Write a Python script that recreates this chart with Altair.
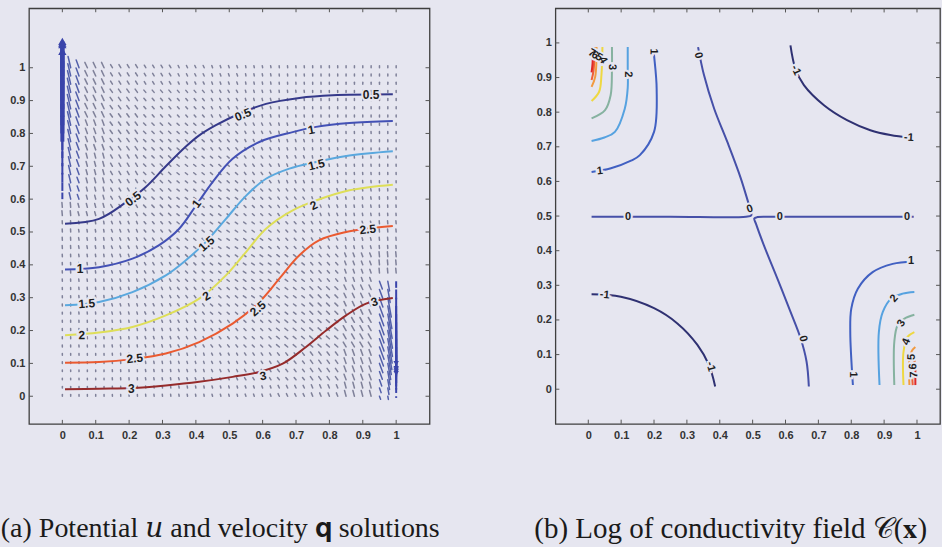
import math
import altair as alt
import pandas as pd

BG = "#e6e6f0"
TICKS = [0, 0.1, 0.2, 0.3, 0.4, 0.5, 0.6, 0.7, 0.8, 0.9, 1]

A_XDOM = [-0.1, 1.1]
A_YDOM = [-0.084, 1.181]
B_XDOM = [-0.1, 1.07]
B_YDOM = [-0.1, 1.1]

# ---------------- panel (a): potential u contours ----------------
U_LEVELS = ["0.5", "1", "1.5", "2", "2.5", "3"]
U_COLORS = ["#35398a", "#4351b5", "#5aa8de", "#dede58", "#ea5a30", "#952b2b"]

U05_X = [0.008, 0.11, 0.19, 0.25, 0.31, 0.37, 0.41, 0.46, 0.53, 0.61, 0.71, 0.81, 0.99]
U05_Y = [0.525, 0.54, 0.59, 0.637, 0.70, 0.76, 0.794, 0.825, 0.86, 0.89, 0.908, 0.916, 0.919]
U1_X = [0.008, 0.11, 0.21, 0.29, 0.35, 0.40, 0.45, 0.51, 0.59, 0.69, 0.76, 0.86, 0.99]
U1_Y = [0.386, 0.393, 0.419, 0.46, 0.51, 0.58, 0.652, 0.723, 0.774, 0.804, 0.82, 0.832, 0.838]
U15_X = [0.008, 0.11, 0.21, 0.31, 0.37, 0.43, 0.49, 0.55, 0.61, 0.68, 0.76, 0.86, 0.99]
U15_Y = [0.277, 0.287, 0.317, 0.368, 0.414, 0.47, 0.54, 0.61, 0.662, 0.693, 0.713, 0.733, 0.746]
U2_X = [0.008, 0.11, 0.21, 0.31, 0.41, 0.49, 0.55, 0.61, 0.69, 0.76, 0.86, 0.99]
U2_Y = [0.186, 0.194, 0.211, 0.246, 0.297, 0.368, 0.439, 0.51, 0.566, 0.596, 0.627, 0.644]
U25_X = [0.008, 0.11, 0.21, 0.31, 0.41, 0.51, 0.59, 0.65, 0.71, 0.77, 0.85, 0.91, 0.99]
U25_Y = [0.102, 0.104, 0.113, 0.13, 0.165, 0.221, 0.287, 0.358, 0.429, 0.475, 0.50, 0.51, 0.518]
U3_X = [0.008, 0.11, 0.21, 0.31, 0.41, 0.51, 0.59, 0.66, 0.73, 0.79, 0.85, 0.91, 0.99]
U3_Y = [0.021, 0.023, 0.025, 0.033, 0.044, 0.059, 0.074, 0.099, 0.15, 0.20, 0.246, 0.282, 0.299]

ULAB_TEXT = ["0.5", "0.5", "0.5", "1", "1", "1", "1.5", "1.5", "1.5",
             "2", "2", "2", "2.5", "2.5", "2.5", "3", "3", "3"]
ULAB_X = [0.212, 0.541, 0.925, 0.053, 0.402, 0.746, 0.073, 0.432, 0.761,
          0.058, 0.432, 0.753, 0.217, 0.586, 0.915, 0.207, 0.601, 0.935]
ULAB_Y = [0.601, 0.857, 0.918, 0.388, 0.586, 0.811, 0.282, 0.464, 0.705,
          0.186, 0.305, 0.581, 0.115, 0.267, 0.508, 0.023, 0.062, 0.287]
ULAB_ANGLE = [322, 337, 359, 0, 306, 348, 355, 317, 346,
              358, 327, 333, 353, 318, 353, 0, 349, 341]

# ---------------- panel (a): velocity field q ----------------
GRID = [i / 40 for i in range(41)]
# coarse read-off of dash length (x0.01) and direction (deg); rows y=1.0 ... 0.0, cols x=0.0 ... 1.0
DASH_LEN = [
    [2.2, 1.8, 1.1, 0.9, 0.75, 0.7, 0.65, 0.6, 0.6, 0.6, 0.6],
    [2.2, 1.8, 1.2, 0.9, 0.8, 0.75, 0.7, 0.65, 0.6, 0.6, 0.6],
    [2.2, 1.7, 1.2, 0.95, 0.85, 0.8, 0.75, 0.7, 0.65, 0.6, 0.6],
    [1.8, 1.5, 1.1, 0.95, 0.85, 0.85, 0.8, 0.75, 0.7, 0.65, 0.6],
    [1.5, 1.2, 1.0, 0.95, 0.85, 0.85, 0.8, 0.75, 0.75, 0.7, 0.7],
    [0.9, 0.8, 0.8, 0.8, 0.85, 0.85, 0.85, 0.8, 0.8, 0.8, 0.9],
    [0.7, 0.7, 0.75, 0.8, 0.85, 0.85, 0.95, 0.95, 0.95, 1.2, 1.5],
    [0.6, 0.65, 0.7, 0.75, 0.8, 0.85, 0.95, 0.95, 1.2, 1.5, 1.8],
    [0.6, 0.6, 0.65, 0.7, 0.75, 0.8, 0.85, 1.1, 1.2, 1.7, 2.2],
    [0.5, 0.5, 0.6, 0.65, 0.65, 0.7, 0.8, 0.9, 1.2, 1.8, 2.2],
    [0.5, 0.5, 0.55, 0.6, 0.65, 0.65, 0.7, 0.9, 1.1, 1.8, 2.2],
]
DASH_ANG = [
    [95, 115, 120, 120, 115, 110, 100, 95, 92, 90, 90],
    [95, 115, 125, 130, 130, 120, 105, 97, 93, 91, 90],
    [95, 110, 125, 135, 138, 130, 115, 105, 97, 93, 91],
    [95, 105, 120, 135, 140, 138, 125, 110, 100, 95, 92],
    [95, 105, 120, 135, 142, 142, 135, 125, 110, 100, 95],
    [93, 100, 112, 128, 140, 145, 142, 132, 120, 105, 95],
    [93, 98, 108, 120, 135, 143, 145, 142, 130, 110, 95],
    [92, 96, 105, 115, 128, 138, 143, 142, 135, 115, 95],
    [92, 94, 100, 108, 118, 128, 135, 140, 138, 120, 95],
    [91, 92, 95, 100, 107, 115, 122, 128, 125, 110, 95],
    [90, 91, 93, 96, 100, 105, 110, 115, 112, 105, 95],
]
# strong flux near the top-left corner (columns x=0, 0.025, 0.05)
TL_COLS = [0.0, 0.025, 0.05]
TL_ANG = [90, 103, 110]
TL_TAIL_Y = [0.6, 0.625, 0.65, 0.675, 0.7, 0.725, 0.75, 0.775, 0.8, 0.825,
             0.85, 0.875, 0.9, 0.925, 0.95, 0.975, 1.0]
TL_LEN_0 = [0.02, 0.025, 0.03, 0.035, 0.045, 0.055, 0.065, 0.08, 0.09, 0.1,
            0.11, 0.12, 0.12, 0.125, 0.12, 0.1, 0.08]
TL_LEN_1 = [0.02, 0.022, 0.025, 0.028, 0.03, 0.033, 0.035, 0.038, 0.04, 0.042,
            0.045, 0.045, 0.045, 0.044, 0.042, 0.038, 0.035]
TL_LEN_2 = [0.015, 0.016, 0.018, 0.02, 0.021, 0.022, 0.024, 0.025, 0.026, 0.027,
            0.028, 0.028, 0.028, 0.028, 0.027, 0.026, 0.025]
# strong flux near the bottom-right corner (columns x=1, 0.975, 0.95)
BR_COLS = [1.0, 0.975, 0.95]
BR_ANG = [270, 280, 290]
BR_TAIL_Y = [0.0, 0.025, 0.05, 0.075, 0.1, 0.125, 0.15, 0.175, 0.2, 0.225,
             0.25, 0.275, 0.3, 0.325, 0.35]
BR_LEN_0 = [0.005, 0.015, 0.03, 0.045, 0.06, 0.075, 0.09, 0.11, 0.13, 0.15,
            0.17, 0.19, 0.2, 0.03, 0.02]
BR_LEN_1 = [0.01, 0.02, 0.03, 0.04, 0.05, 0.06, 0.07, 0.075, 0.08, 0.08,
            0.075, 0.07, 0.06, 0.04, 0.03]
BR_LEN_2 = [0.01, 0.015, 0.02, 0.025, 0.03, 0.035, 0.04, 0.04, 0.04, 0.04,
            0.038, 0.035, 0.03, 0.028, 0.025]

# ---------------- panel (b): log conductivity contours ----------------
C_LEVELS = ["-1", "0", "1", "2", "3", "4", "5", "6", "7"]
C_COLORS = ["#2f3172", "#4650a8", "#4160c2", "#56a2e0", "#86b2a0", "#eed842",
            "#f19a40", "#ef6038", "#e02828"]

CM1A_X = [0.01, 0.099, 0.2, 0.271, 0.332, 0.367, 0.386]
CM1A_Y = [0.274, 0.267, 0.234, 0.19, 0.128, 0.07, 0.008]
CM1B_X = [0.615, 0.63, 0.656, 0.717, 0.787, 0.858, 0.919, 0.98]
CM1B_Y = [0.993, 0.926, 0.878, 0.82, 0.777, 0.748, 0.734, 0.726]
C0A_X = [0.01, 0.25, 0.48, 0.496, 0.495, 0.489, 0.464, 0.423, 0.383, 0.352, 0.334]
C0A_Y = [0.498, 0.498, 0.498, 0.502, 0.515, 0.532, 0.609, 0.714, 0.81, 0.907, 0.988]
C0B_X = [0.671, 0.664, 0.646, 0.615, 0.575, 0.534, 0.51, 0.505, 0.515, 0.55, 0.8, 0.99]
C0B_Y = [0.008, 0.08, 0.147, 0.224, 0.32, 0.416, 0.478, 0.493, 0.497, 0.498, 0.498, 0.498]
C1A_X = [0.01, 0.069, 0.13, 0.157, 0.2, 0.208, 0.2, 0.198]
C1A_Y = [0.627, 0.638, 0.66, 0.676, 0.743, 0.868, 0.965, 0.985]
C1B_X = [0.805, 0.797, 0.8, 0.82, 0.865, 0.926, 0.987]
C1B_Y = [0.012, 0.165, 0.232, 0.29, 0.338, 0.362, 0.369]
C2A_X = [0.01, 0.049, 0.081, 0.111, 0.12, 0.12, 0.12]
C2A_Y = [0.717, 0.727, 0.743, 0.81, 0.87, 0.93, 0.988]
C2B_X = [0.886, 0.884, 0.896, 0.921, 0.956, 0.992]
C2B_Y = [0.012, 0.165, 0.223, 0.261, 0.276, 0.281]
C3A_X = [0.01, 0.051, 0.068, 0.072, 0.072]
C3A_Y = [0.782, 0.806, 0.849, 0.926, 0.988]
C3B_X = [0.931, 0.931, 0.941, 0.962, 0.992]
C3B_Y = [0.012, 0.137, 0.185, 0.204, 0.215]
C4A_X = [0.01, 0.033, 0.04, 0.043]
C4A_Y = [0.832, 0.859, 0.907, 0.988]
C4B_X = [0.959, 0.959, 0.971, 0.992]
C4B_Y = [0.012, 0.108, 0.151, 0.165]
C5A_X = [0.01, 0.021, 0.025]
C5A_Y = [0.873, 0.902, 0.988]
C5B_X = [0.977, 0.977, 0.985, 0.995]
C5B_Y = [0.012, 0.088, 0.112, 0.122]
C6A_X = [0.01, 0.016, 0.019]
C6A_Y = [0.893, 0.92, 0.988]
C6B_X = [0.987, 0.987, 0.995]
C6B_Y = [0.012, 0.074, 0.083]
C7A_X = [0.01, 0.013, 0.014]
C7A_Y = [0.915, 0.94, 0.988]
C7B_X = [0.995, 0.995]
C7B_Y = [0.012, 0.07]

CLAB_TEXT = ["1", "1", "2", "3", "4", "5", "6", "7", "-1", "-1", "-1", "-1",
             "0", "0", "0", "0", "0", "0", "1", "1", "2", "3", "4", "5", "6", "7"]
CLAB_X = [0.035, 0.198, 0.121, 0.072, 0.044, 0.032, 0.02, 0.01, 0.05, 0.372, 0.631, 0.975,
          0.334, 0.492, 0.121, 0.583, 0.97, 0.653, 0.982, 0.805, 0.931, 0.953, 0.968,
          0.984, 0.989, 0.992]
CLAB_Y = [0.63, 0.975, 0.909, 0.93, 0.95, 0.958, 0.964, 0.97, 0.272, 0.065, 0.921, 0.726,
          0.964, 0.52, 0.498, 0.498, 0.498, 0.146, 0.369, 0.042, 0.262, 0.19, 0.137,
          0.093, 0.066, 0.042]
CLAB_ANGLE = [352, 90, 90, 90, 60, 30, 30, 30, 5, 75, 65, 3,
              75, 340, 0, 0, 0, 75, 0, 90, 310, 300, 290, 270, 270, 270]

CAPTION_A = "(a) Potential \U0001D462 and velocity \U0001D42A solutions"
CAPTION_B = "(b) Log of conductivity field \U0001D49E(\U0001D431)"

# ======================= build tables =======================
def curve_rows(level, seg, xs, ys):
    return [dict(level=level, seg=seg, i=i, x=x, y=y) for i, (x, y) in enumerate(zip(xs, ys))]


def tick_rows(xdom, ydom, dx, dy):
    rows = []
    for t in TICKS:
        rows.append(dict(x=t, y=ydom[0], x2=t, y2=ydom[0] + dy))
        rows.append(dict(x=t, y=ydom[1], x2=t, y2=ydom[1] - dy))
        rows.append(dict(x=xdom[0], y=t, x2=xdom[0] + dx, y2=t))
        rows.append(dict(x=xdom[1], y=t, x2=xdom[1] - dx, y2=t))
    return pd.DataFrame(rows)


def vec(x, y, length, ang):
    a = math.radians(ang)
    return dict(x=x, y=y, x2=x + length * math.cos(a), y2=y + length * math.sin(a))


u_curves = []
for lev, xs, ys in zip(U_LEVELS, [U05_X, U1_X, U15_X, U2_X, U25_X, U3_X],
                       [U05_Y, U1_Y, U15_Y, U2_Y, U25_Y, U3_Y]):
    u_curves += curve_rows(lev, lev, xs, ys)
u_df = pd.DataFrame(u_curves)
ulab_df = pd.DataFrame(dict(text=ULAB_TEXT, x=ULAB_X, y=ULAB_Y, angle=ULAB_ANGLE))

dash_rows = []
for gy in GRID:
    for gx in GRID:
        if gx <= 0.05 and gy >= 0.6:
            continue
        if gx >= 0.95 and gy <= 0.35:
            continue
        ix = min(int(gx * 10 + 0.5), 10)
        iy = min(int(gy * 10 + 0.5), 10)
        dash_rows.append(vec(gx, gy, DASH_LEN[10 - iy][ix] * 0.01, DASH_ANG[10 - iy][ix]))
dash_df = pd.DataFrame(dash_rows)

big_rows, thick_rows, mid_rows, head_up, head_down = [], [], [], [], []
for col, ang, lens in zip(TL_COLS, TL_ANG, [TL_LEN_0, TL_LEN_1, TL_LEN_2]):
    for ty, ln in zip(TL_TAIL_Y, lens):
        r = vec(col, ty, ln, ang)
        if col == TL_COLS[0]:
            (thick_rows if ln >= 0.07 else big_rows).append(r)
            if r["y2"] >= 1.05:
                head_up.append(dict(x=r["x2"], y=r["y2"]))
        else:
            mid_rows.append(r)
for col, ang, lens in zip(BR_COLS, BR_ANG, [BR_LEN_0, BR_LEN_1, BR_LEN_2]):
    for ty, ln in zip(BR_TAIL_Y, lens):
        r = vec(col, ty, ln, ang)
        if col == BR_COLS[0]:
            big_rows.append(r)
            if ln >= 0.13:
                head_down.append(dict(x=r["x2"], y=r["y2"]))
        else:
            mid_rows.append(r)
big_df = pd.DataFrame(big_rows)
thick_df = pd.DataFrame(thick_rows)
mid_df = pd.DataFrame(mid_rows)
hu_df = pd.DataFrame(head_up)
hd_df = pd.DataFrame(head_down)

c_curves = []
c_curves += curve_rows("-1", "m1a", CM1A_X, CM1A_Y)
c_curves += curve_rows("-1", "m1b", CM1B_X, CM1B_Y)
c_curves += curve_rows("0", "0a", C0A_X, C0A_Y)
c_curves += curve_rows("0", "0b", C0B_X, C0B_Y)
for lev, ax_, ay_, bx_, by_ in [("1", C1A_X, C1A_Y, C1B_X, C1B_Y), ("2", C2A_X, C2A_Y, C2B_X, C2B_Y),
                                ("3", C3A_X, C3A_Y, C3B_X, C3B_Y), ("4", C4A_X, C4A_Y, C4B_X, C4B_Y),
                                ("5", C5A_X, C5A_Y, C5B_X, C5B_Y), ("6", C6A_X, C6A_Y, C6B_X, C6B_Y),
                                ("7", C7A_X, C7A_Y, C7B_X, C7B_Y)]:
    c_curves += curve_rows(lev, lev + "a", ax_, ay_)
    c_curves += curve_rows(lev, lev + "b", bx_, by_)
c_df = pd.DataFrame(c_curves)
clab_df = pd.DataFrame(dict(text=CLAB_TEXT, x=CLAB_X, y=CLAB_Y, angle=CLAB_ANGLE))

# ======================= encodings =======================
def xenc(dom):
    return alt.X("x:Q", scale=alt.Scale(domain=dom, nice=False, zero=False),
                 axis=alt.Axis(values=TICKS, format="~g", ticks=False, domain=False, grid=False,
                               labelPadding=6, title=None, labelFlush=False))


def yenc(dom):
    return alt.Y("y:Q", scale=alt.Scale(domain=dom, nice=False, zero=False),
                 axis=alt.Axis(values=TICKS, format="~g", ticks=False, domain=False, grid=False,
                               labelPadding=4, title=None, labelFlush=False))


def seg_layer(df, xdom, ydom, **mark):
    return alt.Chart(df).mark_rule(**mark).encode(
        x=xenc(xdom), y=yenc(ydom), x2="x2:Q", y2="y2:Q")


def labels(df, xdom, ydom, size):
    base = alt.Chart(df).encode(x=xenc(xdom), y=yenc(ydom), text="text:N", angle="angle:Q")
    halo = base.mark_text(font="Liberation Sans", fontSize=size, fontWeight="bold",
                          stroke=BG, strokeWidth=4, color=BG)
    txt = base.mark_text(font="Liberation Sans", fontSize=size, fontWeight="bold", color="#1e1e1e")
    return halo, txt


# ---------- panel (a) ----------
a_ticks = seg_layer(tick_rows(A_XDOM, A_YDOM, 0.012, 0.012), A_XDOM, A_YDOM,
                    color="#555", strokeWidth=1)
a_dash = seg_layer(dash_df, A_XDOM, A_YDOM, color="#5c5f7c", strokeWidth=1.5,
                   strokeCap="round", opacity=0.75)
a_mid = seg_layer(mid_df, A_XDOM, A_YDOM, color="#5360aa", strokeWidth=1.5, strokeCap="round")
a_big = seg_layer(big_df, A_XDOM, A_YDOM, color="#3a44aa", strokeWidth=2)
a_thick = seg_layer(thick_df, A_XDOM, A_YDOM, color="#3a44aa", strokeWidth=4)
a_hu = alt.Chart(hu_df).mark_point(shape="triangle-up", filled=True, size=70, color="#3a44aa",
                                   opacity=1).encode(x=xenc(A_XDOM), y=yenc(A_YDOM))
a_hd = alt.Chart(hd_df).mark_point(shape="triangle-down", filled=True, size=30, color="#3a44aa",
                                   opacity=1).encode(x=xenc(A_XDOM), y=yenc(A_YDOM))
a_lines = alt.Chart(u_df).mark_line(strokeWidth=2, interpolate="catmull-rom").encode(
    x=xenc(A_XDOM), y=yenc(A_YDOM),
    color=alt.Color("level:N", scale=alt.Scale(domain=U_LEVELS, range=U_COLORS), legend=None),
    detail="seg:N", order="i:Q")
a_halo, a_txt = labels(ulab_df, A_XDOM, A_YDOM, 12)

CAP_FONT = "Liberation Serif, DejaVu Serif"

left = alt.layer(a_ticks, a_dash, a_mid, a_lines, a_big, a_thick, a_hu, a_hd, a_halo, a_txt).properties(
    width=401, height=416,
    title=alt.TitleParams(text=CAPTION_A, orient="bottom", anchor="middle", frame="group",
                          dx=-9, offset=74, font=CAP_FONT,
                          fontSize=28, fontWeight="normal", color="#1a1a1a"))

# ---------- panel (b) ----------
b_ticks = seg_layer(tick_rows(B_XDOM, B_YDOM, 0.012, 0.012), B_XDOM, B_YDOM,
                    color="#555", strokeWidth=1)
b_lines = alt.Chart(c_df).mark_line(strokeWidth=2, interpolate="catmull-rom").encode(
    x=xenc(B_XDOM), y=yenc(B_YDOM),
    color=alt.Color("level:N", scale=alt.Scale(domain=C_LEVELS, range=C_COLORS), legend=None),
    detail="seg:N", order="i:Q")
b_halo, b_txt = labels(clab_df, B_XDOM, B_YDOM, 11)

right = alt.layer(b_ticks, b_lines, b_halo, b_txt).properties(
    width=385, height=416,
    title=alt.TitleParams(text=CAPTION_B, orient="bottom", anchor="middle", frame="group",
                          dx=-17, offset=74, font=CAP_FONT,
                          fontSize=29, fontWeight="normal", color="#1a1a1a"))

chart = alt.hconcat(left, right, spacing=126, bounds="flush").resolve_scale(
    color="independent", x="independent", y="independent"
).properties(
    padding={"left": 0, "right": 0, "top": 6, "bottom": 2}
).configure(background=BG).configure_view(stroke="#3f3f3f", strokeWidth=1.3).configure_axis(
    labelFont="Liberation Sans", labelFontSize=11, labelColor="#333333", labelFontWeight="bold")

chart.save("out.html", embed_options={"renderer": "svg", "actions": False})
